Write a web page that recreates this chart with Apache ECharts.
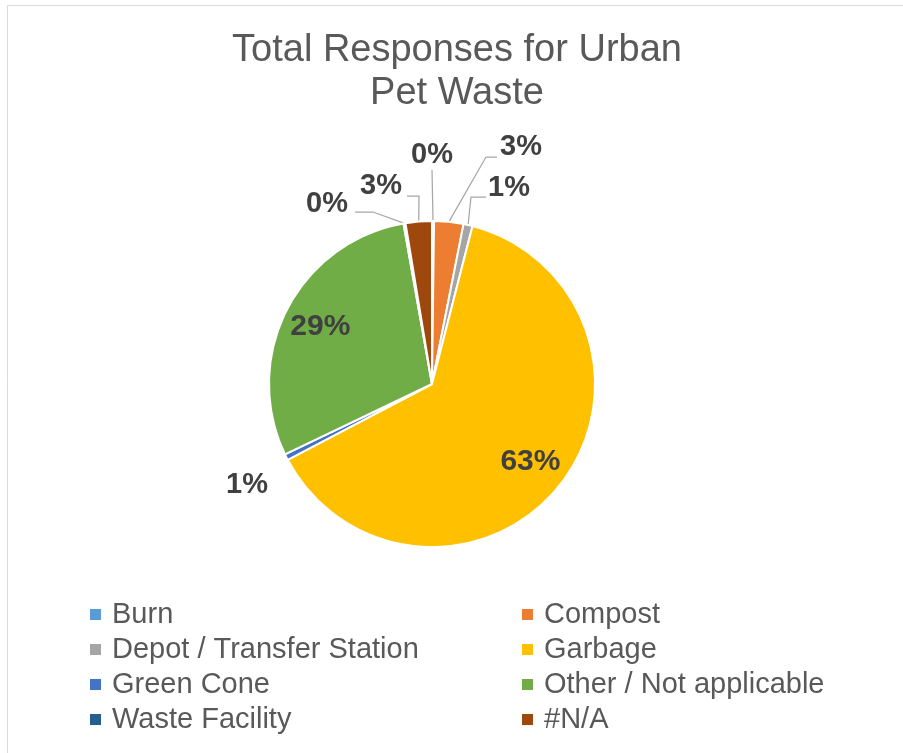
<!DOCTYPE html>
<html><head><meta charset="utf-8">
<script src="https://cdn.jsdelivr.net/npm/echarts@6/dist/echarts.min.js"></script>
<style>html,body{margin:0;padding:0;background:#fff}#c{width:903px;height:753px}</style>
</head><body><div id="c"></div>
<script>
const categories = ['Burn','Compost','Depot / Transfer Station','Garbage','Green Cone','Other / Not applicable','Waste Facility','#N/A'];
const values = [0.2, 2.9, 0.9, 63.3, 0.6, 29.3, 0.2, 2.6];
const colors = ['#5B9BD5','#ED7D31','#A5A5A5','#FFC000','#4472C4','#70AD47','#255E91','#9E480E'];
const insideLabels = ['Garbage','Other / Not applicable'];
const leftLegend = ['Burn','Depot / Transfer Station','Green Cone','Waste Facility'];
const rightLegend = ['Compost','Garbage','Other / Not applicable','#N/A'];
const titleText = 'Total Responses for Urban\nPet Waste';

const FONT = '"Liberation Sans", Arial, sans-serif';
const pct = p => Math.round(p.percent) + '%';
const labelBase = {fontWeight: 'bold', color: '#404040', fontFamily: FONT, formatter: pct};

// Excel-style placement of the outside data labels (label centre, elbow, end of leader)
const outsideLabelPlacement = {
  'Burn':                     {x: 432, y: 155, line: [[432, 170], [432, 170]]},
  'Compost':                  {x: 521, y: 147, line: [[486, 157], [497, 157]]},
  'Depot / Transfer Station': {x: 509, y: 188, line: [[471, 197], [486, 197]]},
  'Green Cone':               {x: 247, y: 485, line: null},
  'Waste Facility':           {x: 327, y: 204, line: [[373, 212], [355, 212]]},
  '#N/A':                     {x: 381, y: 186, line: [[419, 196], [407, 196]]}
};

const mainData = categories.map((n, i) => ({
  name: n, value: values[i], itemStyle: {color: colors[i]},
  label: {show: insideLabels.indexOf(n) < 0},
  labelLine: {show: insideLabels.indexOf(n) < 0 && !(outsideLabelPlacement[n] && outsideLabelPlacement[n].line === null)}
}));
const overlayData = categories.map((n, i) => ({
  name: n, value: values[i],
  label: {show: insideLabels.indexOf(n) >= 0}
}));

const legendCommon = {
  orient: 'vertical', icon: 'rect', itemWidth: 11, itemHeight: 11, itemGap: 0, padding: 0,
  selectedMode: false,
  itemStyle: {borderColor: 'rgba(0,0,0,0)', borderWidth: 0},
  textStyle: {fontSize: 29, color: '#595959', fontFamily: FONT, lineHeight: 35, padding: [0,0,0,6]}
};

const chart = echarts.init(document.getElementById('c'), null, {renderer: 'canvas'});
chart.setOption({
  backgroundColor: '#fff',
  color: colors,
  animation: false,
  title: {
    text: titleText, left: 457, top: 29, padding: 0, textAlign: 'center',
    textStyle: {fontSize: 38, fontWeight: 'normal', color: '#595959', fontFamily: FONT, lineHeight: 43}
  },
  graphic: [{
    type: 'rect', silent: true,
    shape: {x: 7.5, y: 5.5, width: 1000, height: 1000},
    style: {fill: 'none', stroke: '#D9D9D9', lineWidth: 1}
  }],
  legend: [
    Object.assign({data: leftLegend, left: 90, top: 597}, legendCommon),
    Object.assign({data: rightLegend, left: 522, top: 597}, legendCommon)
  ],
  series: [{
    type: 'pie', center: [432, 384], radius: [0, 163], startAngle: 90, clockwise: true,
    avoidLabelOverlap: false, minShowLabelAngle: 0,
    itemStyle: {borderColor: '#fff', borderWidth: 2},
    label: Object.assign({position: 'outside', fontSize: 29}, labelBase),
    labelLine: {length: 14, length2: 12, lineStyle: {color: '#A6A6A6', width: 1.25}},
    labelLayout: function (params) {
      const p = outsideLabelPlacement[categories[params.dataIndex]];
      if (!p) return;
      const res = {x: p.x, y: p.y, align: 'center', verticalAlign: 'middle'};
      if (p.line && params.labelLinePoints) {
        const start = params.labelLinePoints[0];
        res.labelLinePoints = [start, p.line[0], p.line[1]];
      }
      return res;
    },
    emphasis: {disabled: true},
    data: mainData
  }, {
    type: 'pie', center: [432, 384], radius: [82, 163], startAngle: 90, clockwise: true,
    silent: true, minShowLabelAngle: 0,
    itemStyle: {color: 'rgba(0,0,0,0)', borderWidth: 0},
    label: Object.assign({position: 'inside', fontSize: 30}, labelBase),
    labelLine: {show: false},
    emphasis: {disabled: true},
    data: overlayData
  }]
});
</script></body></html>
